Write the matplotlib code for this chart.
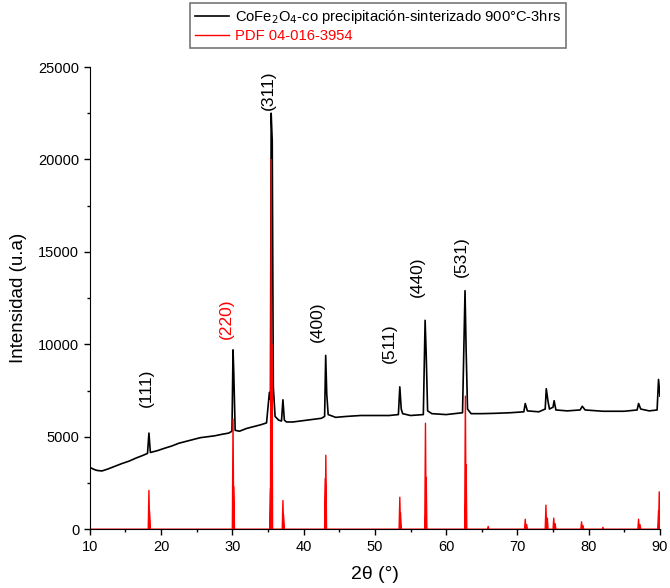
import numpy as np
import matplotlib
matplotlib.use("Agg")
import matplotlib.pyplot as plt
from matplotlib.ticker import MultipleLocator

plt.rcParams['font.family'] = ['Liberation Sans', 'DejaVu Sans']

tt_meas = [10.0, 10.5, 11.0, 11.7, 12.5, 13.5, 14.5, 15.5, 16.5, 17.5, 18.1, 18.3, 18.5,
           19.5, 20.5, 21.5, 22.5, 23.5, 24.5, 25.5, 26.5, 27.5, 28.5, 29.5, 29.95, 30.1,
           30.2, 30.4, 31.0, 32.0, 33.0, 34.0, 34.8, 35.2, 35.35, 35.45, 35.6, 35.75, 36.0,
           36.5, 36.9, 37.1, 37.3, 37.6, 38.5, 39.5, 40.5, 41.5, 42.5, 42.95, 43.1, 43.25,
           43.45, 44.5, 46.0, 48.0, 50.0, 52.0, 53.3, 53.5, 53.7, 53.9, 55.0, 56.8, 57.05,
           57.2, 57.4, 58.0, 60.0, 62.3, 62.65, 62.8, 63.0, 63.5, 65.0, 67.0, 69.0, 70.9,
           71.1, 71.4, 73.0, 73.9, 74.05, 74.3, 74.5, 75.0, 75.15, 75.4, 77.0, 78.8, 79.1,
           79.5, 82.0, 85.0, 86.8, 87.0, 87.3, 88.5, 89.6, 89.8, 90.0]
i_meas = [3350, 3250, 3180, 3150, 3250, 3400, 3550, 3680, 3850, 4000, 4100, 5200, 4150,
          4250, 4380, 4500, 4650, 4750, 4850, 4950, 5000, 5050, 5130, 5200, 5300, 9700,
          8500, 5350, 5300, 5450, 5550, 5650, 5750, 7400, 7000, 22500, 21000, 7700, 6100,
          5900, 5850, 7000, 5900, 5800, 5800, 5850, 5900, 5950, 6000, 6100, 9400, 7300,
          6200, 6050, 6100, 6150, 6150, 6150, 6200, 7700, 6500, 6250, 6150, 6200, 11300,
          9500, 6400, 6250, 6200, 6300, 12900, 9800, 6500, 6250, 6250, 6270, 6300, 6350,
          6800, 6400, 6350, 6500, 7600, 6900, 6500, 6600, 6950, 6450, 6400, 6450, 6650,
          6450, 6380, 6380, 6450, 6800, 6500, 6400, 6450, 8100, 7200]

# reference card PDF 04-016-3954: peak positions and heights
pdf_pos = [18.3, 18.38, 30.1, 30.2, 35.35, 35.45, 35.55, 37.1, 37.18, 43.05, 43.12, 53.5, 53.6,
           57.1, 57.2, 62.7, 62.8, 65.9, 71.1, 71.3, 74.0, 74.2, 75.1, 75.3, 79.0, 79.2,
           82.0, 87.0, 87.2, 89.8, 89.9]
pdf_int = [2100, 1000, 5950, 2300, 2200, 20000, 10000, 1550, 800, 2750, 4000, 1730, 900,
           5730, 2800, 7200, 3500, 150, 540, 250, 1300, 600, 600, 300, 400, 200,
           100, 540, 250, 1000, 2020]

# hkl labels: text, 2theta, intensity (center), colour
hkl_txt = ['(111)', '(220)', '(311)', '(400)', '(511)', '(440)', '(531)']
hkl_x = [18.0, 29.1, 35.0, 42.0, 52.1, 56.0, 62.1]
hkl_y = [7630, 11400, 23750, 11200, 10060, 13640, 14770]
hkl_col = ['black', 'red', 'black', 'black', 'black', 'black', 'black']

# build red stick pattern as narrow triangles
w = 0.1
px, py = [10.0], [0]
for p, h in sorted(zip(pdf_pos, pdf_int)):
    px += [p - w, p, p + w]
    py += [0, h, 0]
px.append(90.0)
py.append(0)

fig = plt.figure(figsize=(6.7, 5.88), dpi=100)
ax = fig.add_axes([0.134, 0.100, 0.851, 0.786])

ax.plot(tt_meas, i_meas, color='black', lw=1.2,
        label=r'CoFe$_2$O$_4$-co precipitación-sinterizado 900°C-3hrs')
ax.plot(px, py, color='red', lw=1.0, label='PDF 04-016-3954')

for t, x, y, c in zip(hkl_txt, hkl_x, hkl_y, hkl_col):
    ax.text(x, y, t, rotation=90, ha='center', va='center', color=c, fontsize=12.5)

ax.set_xlim(10, 90)
ax.set_ylim(0, 25000)
ax.xaxis.set_major_locator(MultipleLocator(10))
ax.xaxis.set_minor_locator(MultipleLocator(5))
ax.yaxis.set_major_locator(MultipleLocator(5000))
ax.yaxis.set_minor_locator(MultipleLocator(2500))
ax.tick_params(which='major', direction='out', length=4, width=1, labelsize=10.5)
ax.tick_params(which='minor', direction='out', length=2, width=1)
ax.spines['top'].set_visible(False)
ax.spines['right'].set_visible(False)

ax.set_xlabel('2θ (°)', fontsize=14, labelpad=9)
ax.set_ylabel('Intensidad (u.a)', fontsize=13.5, labelpad=8)

leg = fig.legend(loc='upper left', bbox_to_anchor=(0.2836, 0.995), fontsize=10.6,
                 frameon=True, fancybox=False, edgecolor='#555555', handlelength=2.3,
                 borderpad=0.35, labelspacing=0.2, handletextpad=0.4, borderaxespad=0)
leg.get_frame().set_linewidth(1.2)
for txt, c in zip(leg.get_texts(), ['black', 'red']):
    txt.set_color(c)

fig.savefig('out.png', dpi=100)
